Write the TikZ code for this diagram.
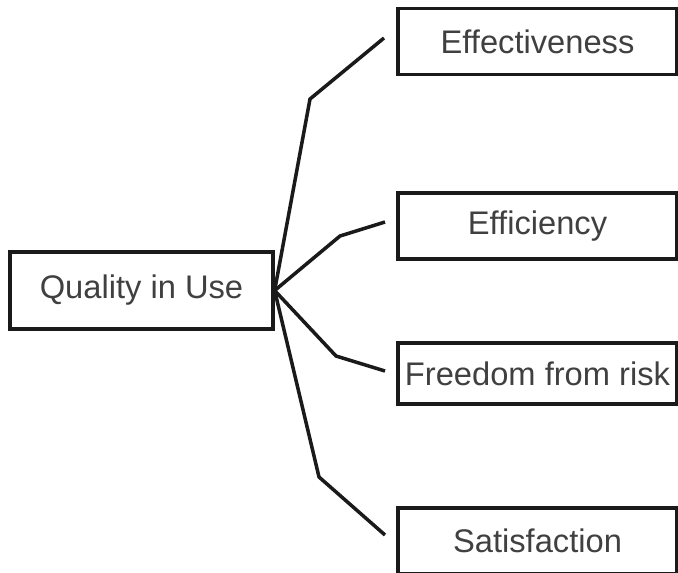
\documentclass[tikz,border=0pt]{standalone}
\usepackage{fontspec}
\setmainfont{Liberation Sans}

\definecolor{labelgray}{RGB}{64,64,64}
\definecolor{linegray}{RGB}{26,26,26}

\tikzset{
    qbox/.style={draw=linegray, line width=1.9pt, inner sep=0pt,
        text=labelgray, font=\fontsize{18.6}{22}\selectfont,
        minimum width=5.58cm, minimum height=1.32cm},
    branch/.style={draw=linegray, line width=2pt}
}

\begin{document}
\begin{tikzpicture}[x=0.02cm, y=-0.02cm]
        \useasboundingbox (0,0) rectangle (678,572);
        \clip (0,0) rectangle (678,572);
        \node[qbox, minimum width=5.26cm, minimum height=1.54cm] (quality) at (141.5, 290.5) {Quality in Use};
        \node[qbox] (effect)  at (537.5, 41.5)  {Effectiveness};
        \node[qbox] (effic)   at (537.5, 226)   {Efficiency};
        \node[qbox, minimum height=1.22cm] (freedom) at (537.5, 373.5) {Freedom from risk};
        \node[qbox] (satis)   at (537.5, 541)   {Satisfaction};
        % bends and loose ends of the branches
        \coordinate (k1) at (310, 99);
        \coordinate (k2) at (340, 236);
        \coordinate (k3) at (336, 356);
        \coordinate (k4) at (319, 477);
        \coordinate (e1) at (384, 38);
        \coordinate (e2) at (385, 222);
        \coordinate (e3) at (385, 371);
        \coordinate (e4) at (385, 535);
        \draw[branch] (quality.east) -- (k1) -- (e1);
        \draw[branch] (quality.east) -- (k2) -- (e2);
        \draw[branch] (quality.east) -- (k3) -- (e3);
        \draw[branch] (quality.east) -- (k4) -- (e4);
    \end{tikzpicture}
\end{document}
